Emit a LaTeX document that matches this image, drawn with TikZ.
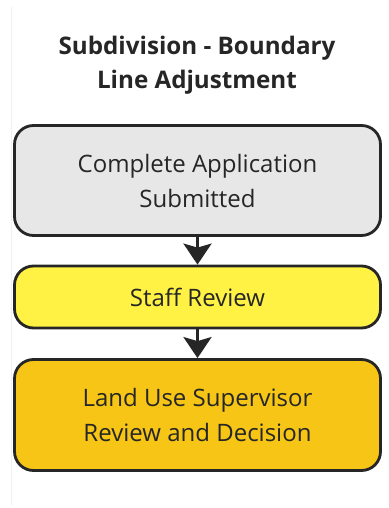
\documentclass[tikz,border=0pt]{standalone}
\usepackage{fontspec}
\setmainfont{Open Sans}
\usetikzlibrary{arrows.meta}
\definecolor{boxgray}{RGB}{231,231,231}
\definecolor{boxyellow}{RGB}{255,242,68}
\definecolor{boxgold}{RGB}{246,197,22}
\definecolor{inkdark}{RGB}{38,38,38}
\tikzset{
  stepbox/.style={draw=inkdark, line width=2.8pt, rounded corners=19pt,
    minimum width=366pt, align=center, text=inkdark, font=\fontsize{24}{35}\selectfont},
  flow/.style={line width=3pt, draw=inkdark, -{Stealth[length=21pt,width=28pt,inset=4pt]}}
}
\begin{document}
\begin{tikzpicture}[x=1pt,y=-1pt]
    \useasboundingbox[fill=white] (0,0) rectangle (388,508);
    \draw[gray!12, line width=1pt] (11.5,7) to (11.5,505);
    \node[font=\bfseries\fontsize{24.2}{34}\selectfont, text=inkdark, align=center] (title) at (197,65) {Subdivision - Boundary\\Line Adjustment};
    \node[stepbox, fill=boxgray, minimum height=110pt] (submit) at (197.5,180.5) {Complete Application\\Submitted};
    \node[stepbox, fill=boxyellow, minimum height=62pt] (staff) at (197.5,297) {Staff Review};
    \node[stepbox, fill=boxgold, minimum height=111pt] (decide) at (197.5,415) {Land Use Supervisor\\Review and Decision};
    \draw[flow] (submit) to (staff);
    \draw[flow] (staff) to (decide);
  \end{tikzpicture}
\end{document}
